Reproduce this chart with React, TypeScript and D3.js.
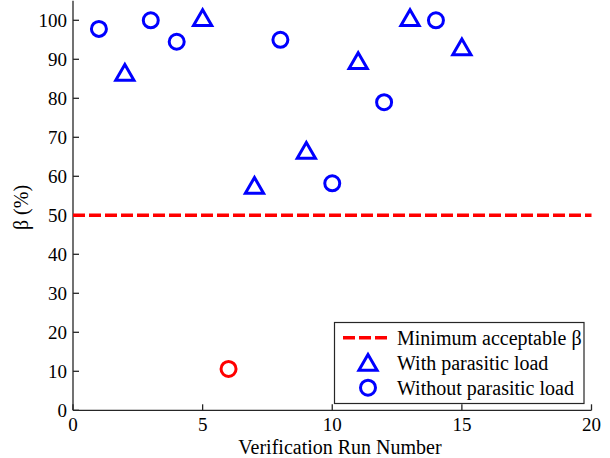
import React from "react";
import * as d3 from "d3";

const runsWith = [2, 5, 7, 9, 11, 13, 15];
const betaWith = [86, 100, 57, 66, 89, 100, 92.5];
const runsWithout = [1, 3, 4, 8, 10, 12, 14];
const betaWithout = [97.8, 100, 94.5, 95, 58.2, 79, 100];
const runsFailed = [6];
const betaFailed = [10.6];
const minBeta = 50;
const xTicks = [0, 5, 10, 15, 20];
const yTicks = [0, 10, 20, 30, 40, 50, 60, 70, 80, 90, 100];
const legendLabels = ["Minimum acceptable β", "With parasitic load", "Without parasitic load"];

const W = 610;
const H = 458;
const FAM = '"Liberation Serif", "Times New Roman", Tinos, serif';

export default function App() {
  const x = d3.scaleLinear().domain([0, 20]).range([73, 591.5]);
  const y = d3.scaleLinear().domain([0, 105]).range([410.3, 0.8]);
  const triR = 10.5;
  const triPath = (cx: number, cy: number) => {
    const s = Math.sin(Math.PI / 3) * triR;
    return `M${cx},${cy - triR}L${cx + s},${cy + triR / 2}L${cx - s},${cy + triR / 2}Z`;
  };
  const blue = "#0000ff";
  const red = "#ff0000";
  const axisColor = "#262626";
  const lx = 368;
  const T = (props: any) => (
    <text {...props} style={{ fontFamily: FAM, fontSize: props.fontSize + "px" }} fill="#000" />
  );
  return (
    <svg width={W} height={H} style={{ position: "absolute", left: 0, top: 0, background: "#fff", fontFamily: FAM }}>
      <rect x={0} y={0} width={W} height={H} fill="#fff" />
      <line x1={x(0)} x2={x(20)} y1={y(0)} y2={y(0)} stroke={axisColor} strokeWidth={1.3} />
      <line x1={x(0)} x2={x(0)} y1={y(0)} y2={y(105)} stroke={axisColor} strokeWidth={1.3} />
      {xTicks.map((t) => (
        <g key={"x" + t}>
          <line x1={x(t)} x2={x(t)} y1={y(0)} y2={y(0) - 6} stroke={axisColor} strokeWidth={1.3} />
          <T x={x(t)} y={431} textAnchor="middle" fontSize={19}>
            {t}
          </T>
        </g>
      ))}
      {yTicks.map((t) => (
        <g key={"y" + t}>
          <line x1={x(0)} x2={x(0) + 6} y1={y(t)} y2={y(t)} stroke={axisColor} strokeWidth={1.3} />
          <T x={67} y={y(t)} dy="0.35em" textAnchor="end" fontSize={19}>
            {t}
          </T>
        </g>
      ))}
      <T x={340} y={454} textAnchor="middle" fontSize={20}>
        Verification Run Number
      </T>
      <T transform={`translate(28,${y(52)}) rotate(-90)`} textAnchor="middle" fontSize={20}>
        β (%)
      </T>
      <line x1={x(0)} x2={x(20)} y1={y(minBeta)} y2={y(minBeta)} stroke={red} strokeWidth={3.5} strokeDasharray="12,4" />
      {runsWith.map((r, i) => (
        <path key={"w" + i} d={triPath(x(r), y(betaWith[i]))} fill="none" stroke={blue} strokeWidth={3} />
      ))}
      {runsWithout.map((r, i) => (
        <circle key={"o" + i} cx={x(r)} cy={y(betaWithout[i])} r={7.5} fill="none" stroke={blue} strokeWidth={3} />
      ))}
      {runsFailed.map((r, i) => (
        <circle key={"f" + i} cx={x(r)} cy={y(betaFailed[i])} r={7.5} fill="none" stroke={red} strokeWidth={3} />
      ))}
      <rect x={334.5} y={322.5} width={249.5} height={81} fill="#fff" stroke={axisColor} strokeWidth={1.2} />
      <line x1={343} x2={387} y1={337.7} y2={337.7} stroke={red} strokeWidth={3.5} strokeDasharray="12,4" />
      <path d={triPath(lx, 365)} fill="none" stroke={blue} strokeWidth={3} />
      <circle cx={lx} cy={387.7} r={7.5} fill="none" stroke={blue} strokeWidth={3} />
      {legendLabels.map((l, i) => (
        <T key={l} x={397} y={337.7 + i * 25} dy="0.35em" fontSize={20}>
          {l}
        </T>
      ))}
    </svg>
  );
}
